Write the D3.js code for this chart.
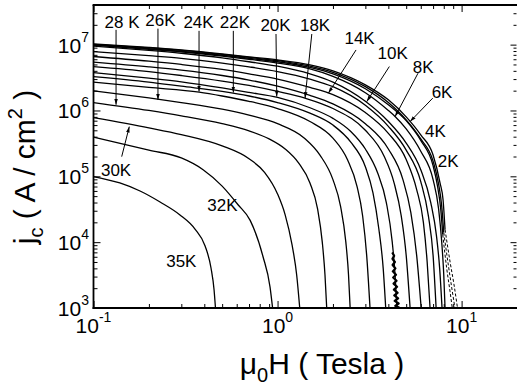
<!DOCTYPE html>
<html>
<head>
<meta charset="utf-8">
<script src="https://cdn.jsdelivr.net/npm/d3@7/dist/d3.min.js"></script>
<style>
html,body{margin:0;padding:0;background:#fff;}
svg{display:block;font-family:"Liberation Sans",Arial,Helvetica,sans-serif;}
</style>
</head>
<body>
<svg id="chart" width="517" height="390"></svg>
<script>
// ---------------- data (mu0H in Tesla, jc in A/cm^2) ----------------
const c2K  = [[0.1,1.03e7],[0.2,9.1e6],[0.3,8.34e6],[0.5,7.24e6],[0.7,6.53e6],[1,5.87e6],[1.5,4.93e6],[2,4.0e6],[3,2.45e6],[4,1.45e6],[5,8.0e5],[6,4.26e5],[7,2.11e5],[7.64,7.9e4],[7.93,4.4e4],[8.13,1.55e4]];
const c4K  = [[0.1,1.01e7],[0.2,8.9e6],[0.3,8.2e6],[0.5,7.1e6],[0.7,6.4e6],[1,5.7e6],[1.5,4.7e6],[2,3.8e6],[3,2.3e6],[4,1.32e6],[5,7.2e5],[6,3.7e5],[7,1.7e5],[7.5,7.6e4],[7.8,3.5e4],[8.0,1.4e4]];
const c6K  = [[0.1,9.95e6],[0.2,8.7e6],[0.3,7.9e6],[0.5,6.9e6],[0.7,6.2e6],[1,5.5e6],[1.5,4.5e6],[2,3.6e6],[3,2.14e6],[4,1.22e6],[5,7.0e5],[6,3.5e5],[7,1.45e5],[7.4,7.1e4],[7.7,3.2e4],[7.9,1.3e4]];
const c8K  = [[0.1,9.8e6],[0.2,8.5e6],[0.3,7.8e6],[0.5,6.7e6],[0.7,6.0e6],[1,5.25e6],[1.5,4.27e6],[2,3.3e6],[3,1.86e6],[4,1.0e6],[4.35,8.1e5],[5,5.25e5],[6,2.4e5],[7,8.9e4],[7.5,3.2e4],[7.8,1.0e4],[8.0,3.2e3],[8.13,1.0e3]];
const c10K = [[0.1,9.5e6],[0.2,8.2e6],[0.3,7.4e6],[0.5,6.3e6],[0.7,5.5e6],[1,4.7e6],[1.5,3.6e6],[2,2.7e6],[3,1.38e6],[4,6.8e5],[5,3.2e5],[6,1.26e5],[6.8,4.0e4],[7.3,1.26e4],[7.6,4.0e3],[7.83,1.0e3]];
const c12K = [[0.1,7.85e6],[0.2,6.8e6],[0.3,6.2e6],[0.5,5.25e6],[0.7,4.6e6],[1,3.9e6],[1.5,3.0e6],[2,2.3e6],[3,1.2e6],[4,5.75e5],[5,2.5e5],[6,8.3e4],[6.6,2.5e4],[7.0,6.3e3],[7.27,1.0e3]];
const c14K = [[0.1,6.6e6],[0.2,5.6e6],[0.3,5.0e6],[0.5,4.2e6],[0.7,3.6e6],[1,3.0e6],[1.5,2.24e6],[2,1.74e6],[3,9.3e5],[4,4.5e5],[5,1.8e5],[5.7,6.3e4],[6.2,2.0e4],[6.5,5.0e3],[6.74,1.0e3]];
const c16K = [[0.1,5.42e6],[0.2,4.6e6],[0.3,4.1e6],[0.5,3.4e6],[0.7,2.9e6],[1,2.34e6],[1.5,1.7e6],[2,1.26e6],[3,6.3e5],[4,2.6e5],[4.8,8.9e4],[5.3,2.8e4],[5.7,6.3e3],[6.03,1.0e3]];
const c18K = [[0.1,4.65e6],[0.2,3.9e6],[0.3,3.4e6],[0.5,2.8e6],[0.7,2.4e6],[1,1.95e6],[1.41,1.54e6],[2,1.07e6],[3,5.0e5],[3.8,2.0e5],[4.3,7.9e4],[4.7,2.5e4],[5.0,6.3e3],[5.25,1.0e3]];
const c20K = [[0.1,3.77e6],[0.2,3.1e6],[0.3,2.72e6],[0.5,2.2e6],[0.7,1.88e6],[1,1.58e6],[1.5,1.1e6],[2,7.6e5],[2.5,4.8e5],[3,2.6e5],[3.5,1.12e5],[3.9,4.0e4],[4.2,1.0e4],[4.35,3.2e3],[4.45,1.0e3]];
const c22K = [[0.1,3.27e6],[0.2,2.7e6],[0.3,2.34e6],[0.5,1.95e6],[0.7,1.66e6],[1,1.32e6],[1.5,9.1e5],[2,6.0e5],[2.5,3.3e5],[3,1.4e5],[3.3,5.6e4],[3.55,1.6e4],[3.75,4.0e3],[3.87,1.0e3]];
const c24K = [[0.1,2.69e6],[0.2,2.24e6],[0.375,1.9e6],[0.5,1.66e6],[0.7,1.38e6],[1,1.07e6],[1.5,6.8e5],[2,3.8e5],[2.4,1.78e5],[2.7,7.1e4],[2.9,2.5e4],[3.05,6.3e3],[3.18,1.0e3]];
const c26K = [[0.1,1.99e6],[0.2,1.55e6],[0.3,1.32e6],[0.5,1.05e6],[0.7,8.5e5],[1,6.3e5],[1.4,3.8e5],[1.7,2.1e5],[2,8.9e4],[2.2,3.5e4],[2.35,1.0e4],[2.43,3.2e3],[2.48,1.0e3]];
const c28K = [[0.1,1.32e6],[0.2,1.0e6],[0.3,8.3e5],[0.5,6.3e5],[0.7,4.9e5],[0.9,3.7e5],[1.1,2.6e5],[1.3,1.6e5],[1.5,7.9e4],[1.65,3.2e4],[1.75,1.0e4],[1.81,3.2e3],[1.85,1.0e3]];
const c30K = [[0.1,7.8e5],[0.2,5.45e5],[0.3,4.3e5],[0.5,2.9e5],[0.7,1.85e5],[0.85,1.15e5],[1,5.4e4],[1.1,2.6e4],[1.2,9.0e3],[1.27,3.2e3],[1.32,1.0e3]];
const c32K = [[0.1,3.93e5],[0.2,2.5e5],[0.3,1.9e5],[0.394,1.26e5],[0.5,7.1e4],[0.61,3.7e4],[0.71,2.14e4],[0.834,6.0e3],[0.91,2.1e3],[0.94,1.0e3]];
const c35K = [[0.1,9.93e4],[0.139,7.92e4],[0.179,5.98e4],[0.230,4.07e4],[0.295,2.59e4],[0.356,1.58e4],[0.404,8.75e3],[0.435,4.05e3],[0.452,1.88e3],[0.460,1.0e3]];

// dashed (extrapolated) low-temperature tails
const d2K = [[8.13,1.55e4],[8.66,5.0e3],[9.1,2.24e3],[9.5,1.0e3]];
const d4K = [[8.0,1.4e4],[8.5,4.2e3],[8.9,1.8e3],[9.2,1.0e3]];
const d6K = [[7.9,1.3e4],[8.3,4.0e3],[8.65,1.8e3],[8.9,1.0e3]];

// noisy low-jc data of the 20K curve
const n20K = [[4.2,7.0e3],[4.3,6.2e3],[4.21,5.6e3],[4.34,5.0e3],[4.22,4.5e3],[4.37,4.0e3],[4.23,3.6e3],[4.4,3.2e3],[4.25,2.9e3],[4.43,2.6e3],[4.27,2.35e3],[4.46,2.1e3],[4.29,1.9e3],[4.49,1.7e3],[4.31,1.55e3],[4.52,1.4e3],[4.33,1.28e3],[4.55,1.17e3],[4.36,1.08e3],[4.57,1.02e3],[4.4,1.0e3]];

const solidCurves = [c2K,c4K,c6K,c8K,c10K,c12K,c14K,c16K,c18K,c20K,c22K,c24K,c26K,c28K,c30K,c32K,c35K];
const dashedCurves = [d2K,d4K,d6K];

// axes
const xDomain = [0.1, 20];
const yDomain = [1e3, 4e7];
const xTickExponents = [-1, 0, 1];
const yTickExponents = [3, 4, 5, 6, 7];

// annotations (data coordinates)
const annotText = ["28 K","26K","24K","22K","20K","18K","14K","10K","8K","6K","4K","2K","30K","32K","35K"];
const annotAt   = [[0.143,1.8e7],[0.231,1.93e7],[0.372,1.8e7],[0.587,1.8e7],[0.975,1.62e7],[1.599,1.62e7],[2.79,1.01e7],[4.22,6.08e6],[6.18,3.73e6],[7.83,1.55e6],[7.2,3.97e5],[8.45,1.39e5],[0.1326,1.01e5],[0.502,2.98e4],[0.30,4.2e3]];
const arrowFrom = [[0.1326,1.68e7],[0.224,1.75e7],[0.3745,1.62e7],[0.575,1.62e7],[0.981,1.45e7],[1.535,1.45e7],[2.67,8.3e6],[4.05,4.65e6],[5.80,3.69e6],[6.97,1.54e6],[0.1423,1.99e5]];
const arrowTo   = [[0.1326,1.22e6],[0.224,1.45e6],[0.3745,1.94e6],[0.575,1.87e6],[0.990,1.63e6],[1.411,1.54e6],[1.888,1.83e6],[3.05,1.36e6],[4.35,8.07e5],[5.25,6.78e5],[0.1565,5.69e5]];

// ---------------- drawing ----------------
const svg = d3.select("#chart");
const X0 = 93.5, X1 = 517, Y0 = 308, Y1 = 5;
const x = d3.scaleLog().domain(xDomain).range([X0, X1]);
const y = d3.scaleLog().domain(yDomain).range([Y0, Y1]);

const defs = svg.append("defs");
defs.append("clipPath").attr("id","clip").append("rect")
  .attr("x",X0).attr("y",Y1).attr("width",X1-X0).attr("height",Y0-Y1);
defs.append("marker").attr("id","ah").attr("viewBox","0 -3 6 6")
  .attr("refX",6).attr("refY",0).attr("markerWidth",6).attr("markerHeight",6)
  .attr("markerUnits","userSpaceOnUse").attr("orient","auto")
  .append("path").attr("d","M0,-1.8L6,0L0,1.8Z").attr("fill","#000");

const line = d3.line().x(d=>x(d[0])).y(d=>y(d[1])).curve(d3.curveMonotoneX);
const lineLin = d3.line().x(d=>x(d[0])).y(d=>y(d[1]));

const plot = svg.append("g").attr("clip-path","url(#clip)");
solidCurves.forEach(c => plot.append("path").attr("d", line(c))
  .attr("fill","none").attr("stroke","#000").attr("stroke-width",1.3));
dashedCurves.forEach(c => plot.append("path").attr("d", line(c))
  .attr("fill","none").attr("stroke","#000").attr("stroke-width",1).attr("stroke-dasharray","3,2"));
plot.append("path").attr("d", lineLin(n20K)).attr("fill","none")
  .attr("stroke","#000").attr("stroke-width",2.2).attr("stroke-linejoin","round");

// ticks
const isMajor = v => Math.abs(Math.log10(v) - Math.round(Math.log10(v))) < 1e-9;
const xTicks = x.ticks();
const yTicks = y.ticks();
const xMin = xTicks.filter(v=>!isMajor(v)), xMaj = xTicks.filter(isMajor);
const yMin = yTicks.filter(v=>!isMajor(v)), yMaj = yTicks.filter(isMajor);

function axisG(gen, t){
  const g = svg.append("g").attr("transform", t).call(gen);
  g.select(".domain").remove();
  g.selectAll("line").attr("stroke","#000").attr("stroke-width",1);
  return g;
}
axisG(d3.axisBottom(x).tickValues(xMin).tickSize(-4).tickFormat(""), `translate(0,${Y0})`);
axisG(d3.axisBottom(x).tickValues(xMaj).tickSize(-7).tickFormat(""), `translate(0,${Y0})`);
axisG(d3.axisTop(x).tickValues(xMin).tickSize(-4).tickFormat(""), `translate(0,${Y1})`);
axisG(d3.axisTop(x).tickValues(xMaj).tickSize(-7).tickFormat(""), `translate(0,${Y1})`);
axisG(d3.axisLeft(y).tickValues(yMin).tickSize(-4).tickFormat(""), `translate(${X0},0)`);
axisG(d3.axisLeft(y).tickValues(yMaj).tickSize(-7).tickFormat(""), `translate(${X0},0)`);
axisG(d3.axisRight(y).tickValues(yMin).tickSize(-3).tickFormat(""), `translate(${X1-0.5},0)`);
axisG(d3.axisRight(y).tickValues(yMaj).tickSize(-6).tickFormat(""), `translate(${X1-0.5},0)`);

// frame
const frame = svg.append("g").attr("stroke","#000").attr("stroke-width",1.8).attr("fill","none");
frame.append("line").attr("x1",X0).attr("x2",X0).attr("y1",Y1).attr("y2",Y0+0.9);
frame.append("line").attr("x1",X0-0.9).attr("x2",X1).attr("y1",Y0).attr("y2",Y0);
frame.append("line").attr("x1",X0-0.9).attr("x2",X1).attr("y1",Y1).attr("y2",Y1);

// tick labels
yTickExponents.forEach(e => {
  const t = svg.append("text").attr("x", 89).attr("y", y(Math.pow(10,e)) + 8)
    .attr("text-anchor","end").attr("font-size",21).attr("fill","#000");
  t.append("tspan").text("10");
  t.append("tspan").attr("font-size",14).attr("dy",-11).text(e);
});
xTickExponents.forEach(e => {
  const t = svg.append("text").attr("x", x(Math.pow(10,e))).attr("y", 333)
    .attr("text-anchor","middle").attr("font-size",21).attr("fill","#000");
  t.append("tspan").text("10");
  t.append("tspan").attr("font-size",14).attr("dy",-11).text(e);
});

// axis titles
const xt = svg.append("text").attr("x", 322).attr("y", 374).attr("text-anchor","middle")
  .attr("font-size",30).attr("fill","#000");
xt.append("tspan").text("\u03bc");
xt.append("tspan").attr("font-size",20).attr("dy",8).text("0");
xt.append("tspan").attr("dy",-8).text("H ( Tesla )");

const yt = svg.append("text").attr("transform","translate(35,167) rotate(-90)")
  .attr("text-anchor","middle").attr("font-size",30).attr("fill","#000");
yt.append("tspan").text("j");
yt.append("tspan").attr("font-size",20).attr("dy",8).text("c");
yt.append("tspan").attr("dy",-8).text(" ( A / cm");
yt.append("tspan").attr("font-size",20).attr("dy",-13).text("2");
yt.append("tspan").attr("dy",13).text(" )");

// annotations
arrowFrom.forEach((f,i) => {
  svg.append("line").attr("x1",x(f[0])).attr("y1",y(f[1]))
    .attr("x2",x(arrowTo[i][0])).attr("y2",y(arrowTo[i][1]))
    .attr("stroke","#000").attr("stroke-width",1).attr("marker-end","url(#ah)");
});
annotText.forEach((s,i) => {
  svg.append("text").attr("x", x(annotAt[i][0])).attr("y", y(annotAt[i][1]))
    .attr("text-anchor","middle").attr("font-size",17).attr("fill","#000").text(s);
});
</script>
</body>
</html>
